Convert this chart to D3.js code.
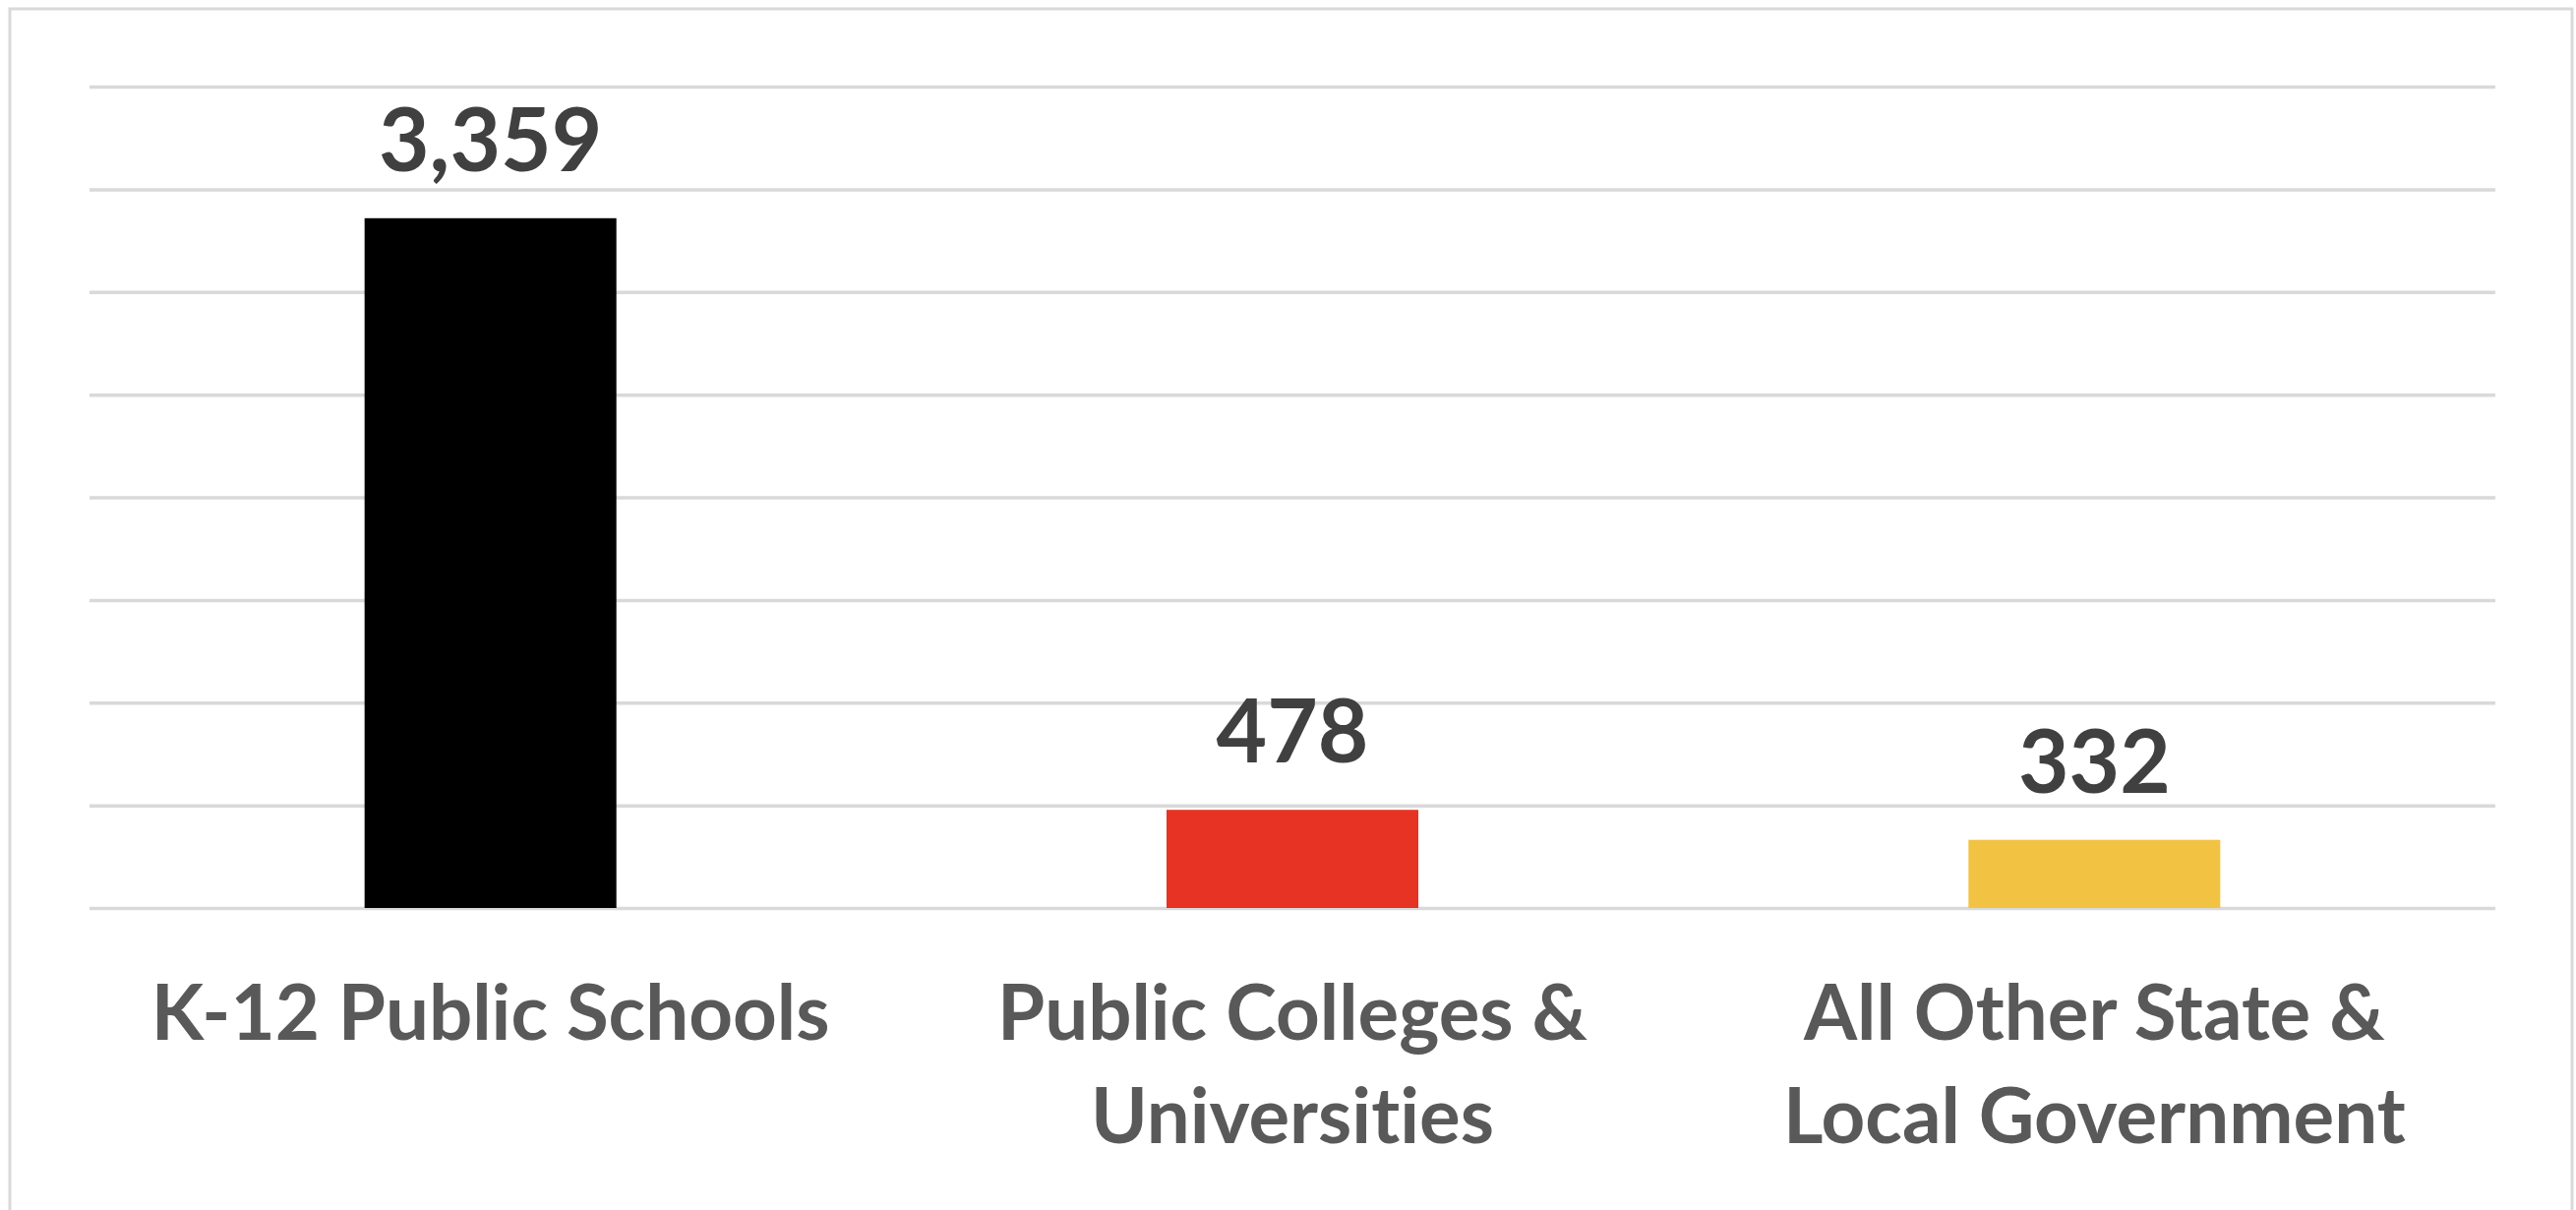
<!DOCTYPE html>
<html>
<head>
<meta charset="utf-8">
<script src="https://cdn.jsdelivr.net/npm/d3@7"></script>
<style>
  html, body { margin: 0; padding: 0; background: #ffffff; }
  svg { display: block; }
  text { font-variant-ligatures: none; font-feature-settings: "liga" 0, "clig" 0; }
</style>
</head>
<body>
<script>
const categories = ["K-12 Public Schools", "Public Colleges & Universities", "All Other State & Local Government"];
const categoryLines = [["K-12 Public Schools"], ["Public Colleges &", "Universities"], ["All Other State &", "Local Government"]];
const values = [3359, 478, 332];
const colors = ["#000000", "#E63323", "#F2C343"];
const yTicks = [0, 500, 1000, 1500, 2000, 2500, 3000, 3500, 4000];

const W = 2619, H = 1230;
const plot = { left: 91, right: 2537, top: 88, bottom: 923 };

const svg = d3.select("body").append("svg").attr("width", W).attr("height", H);

// chart border
svg.append("rect")
  .attr("x", 10).attr("y", 9)
  .attr("width", 2605).attr("height", 1240)
  .attr("fill", "none").attr("stroke", "#d9d9d9").attr("stroke-width", 3);

const x = d3.scaleBand().domain(categories)
  .range([plot.left, plot.right])
  .paddingInner(0.686).paddingOuter(0.343);
const y = d3.scaleLinear().domain([0, 4000]).range([plot.bottom, plot.top]);

// gridlines via axis
const grid = svg.append("g")
  .attr("transform", `translate(${plot.left},0)`)
  .call(d3.axisLeft(y).tickValues(yTicks).tickSize(-(plot.right - plot.left)).tickFormat(""));
grid.select(".domain").remove();
grid.selectAll(".tick line").attr("stroke", "#d9d9d9").attr("stroke-width", 3.5);

// bars
svg.append("g").selectAll("rect").data(values).join("rect")
  .attr("x", (d, i) => x(categories[i]))
  .attr("y", d => y(d))
  .attr("width", x.bandwidth())
  .attr("height", d => y(0) - y(d))
  .attr("fill", (d, i) => colors[i]);

// value labels
svg.append("g").selectAll("text").data(values).join("text")
  .attr("x", (d, i) => x(categories[i]) + x.bandwidth() / 2)
  .attr("y", d => y(d) - 48)
  .attr("text-anchor", "middle")
  .attr("font-family", "Lato, 'Open Sans', sans-serif")
  .attr("font-weight", 700)
  .attr("font-size", 89)
  .attr("fill", "#404040")
  .text(d => d3.format(",")(d));

// category labels
const cat = svg.append("g").selectAll("text").data(categories).join("text")
  .attr("x", d => x(d) + x.bandwidth() / 2)
  .attr("y", 1057)
  .attr("text-anchor", "middle")
  .attr("font-family", "Lato, 'Open Sans', sans-serif")
  .attr("font-weight", 700)
  .attr("font-size", 78)
  .attr("fill", "#595959");
cat.each(function(d, i) {
  const t = d3.select(this);
  categoryLines[i].forEach((line, j) => {
    t.append("tspan")
      .attr("x", x(d) + x.bandwidth() / 2)
      .attr("dy", j === 0 ? 0 : 105)
      .text(line);
  });
});
</script>
</body>
</html>
